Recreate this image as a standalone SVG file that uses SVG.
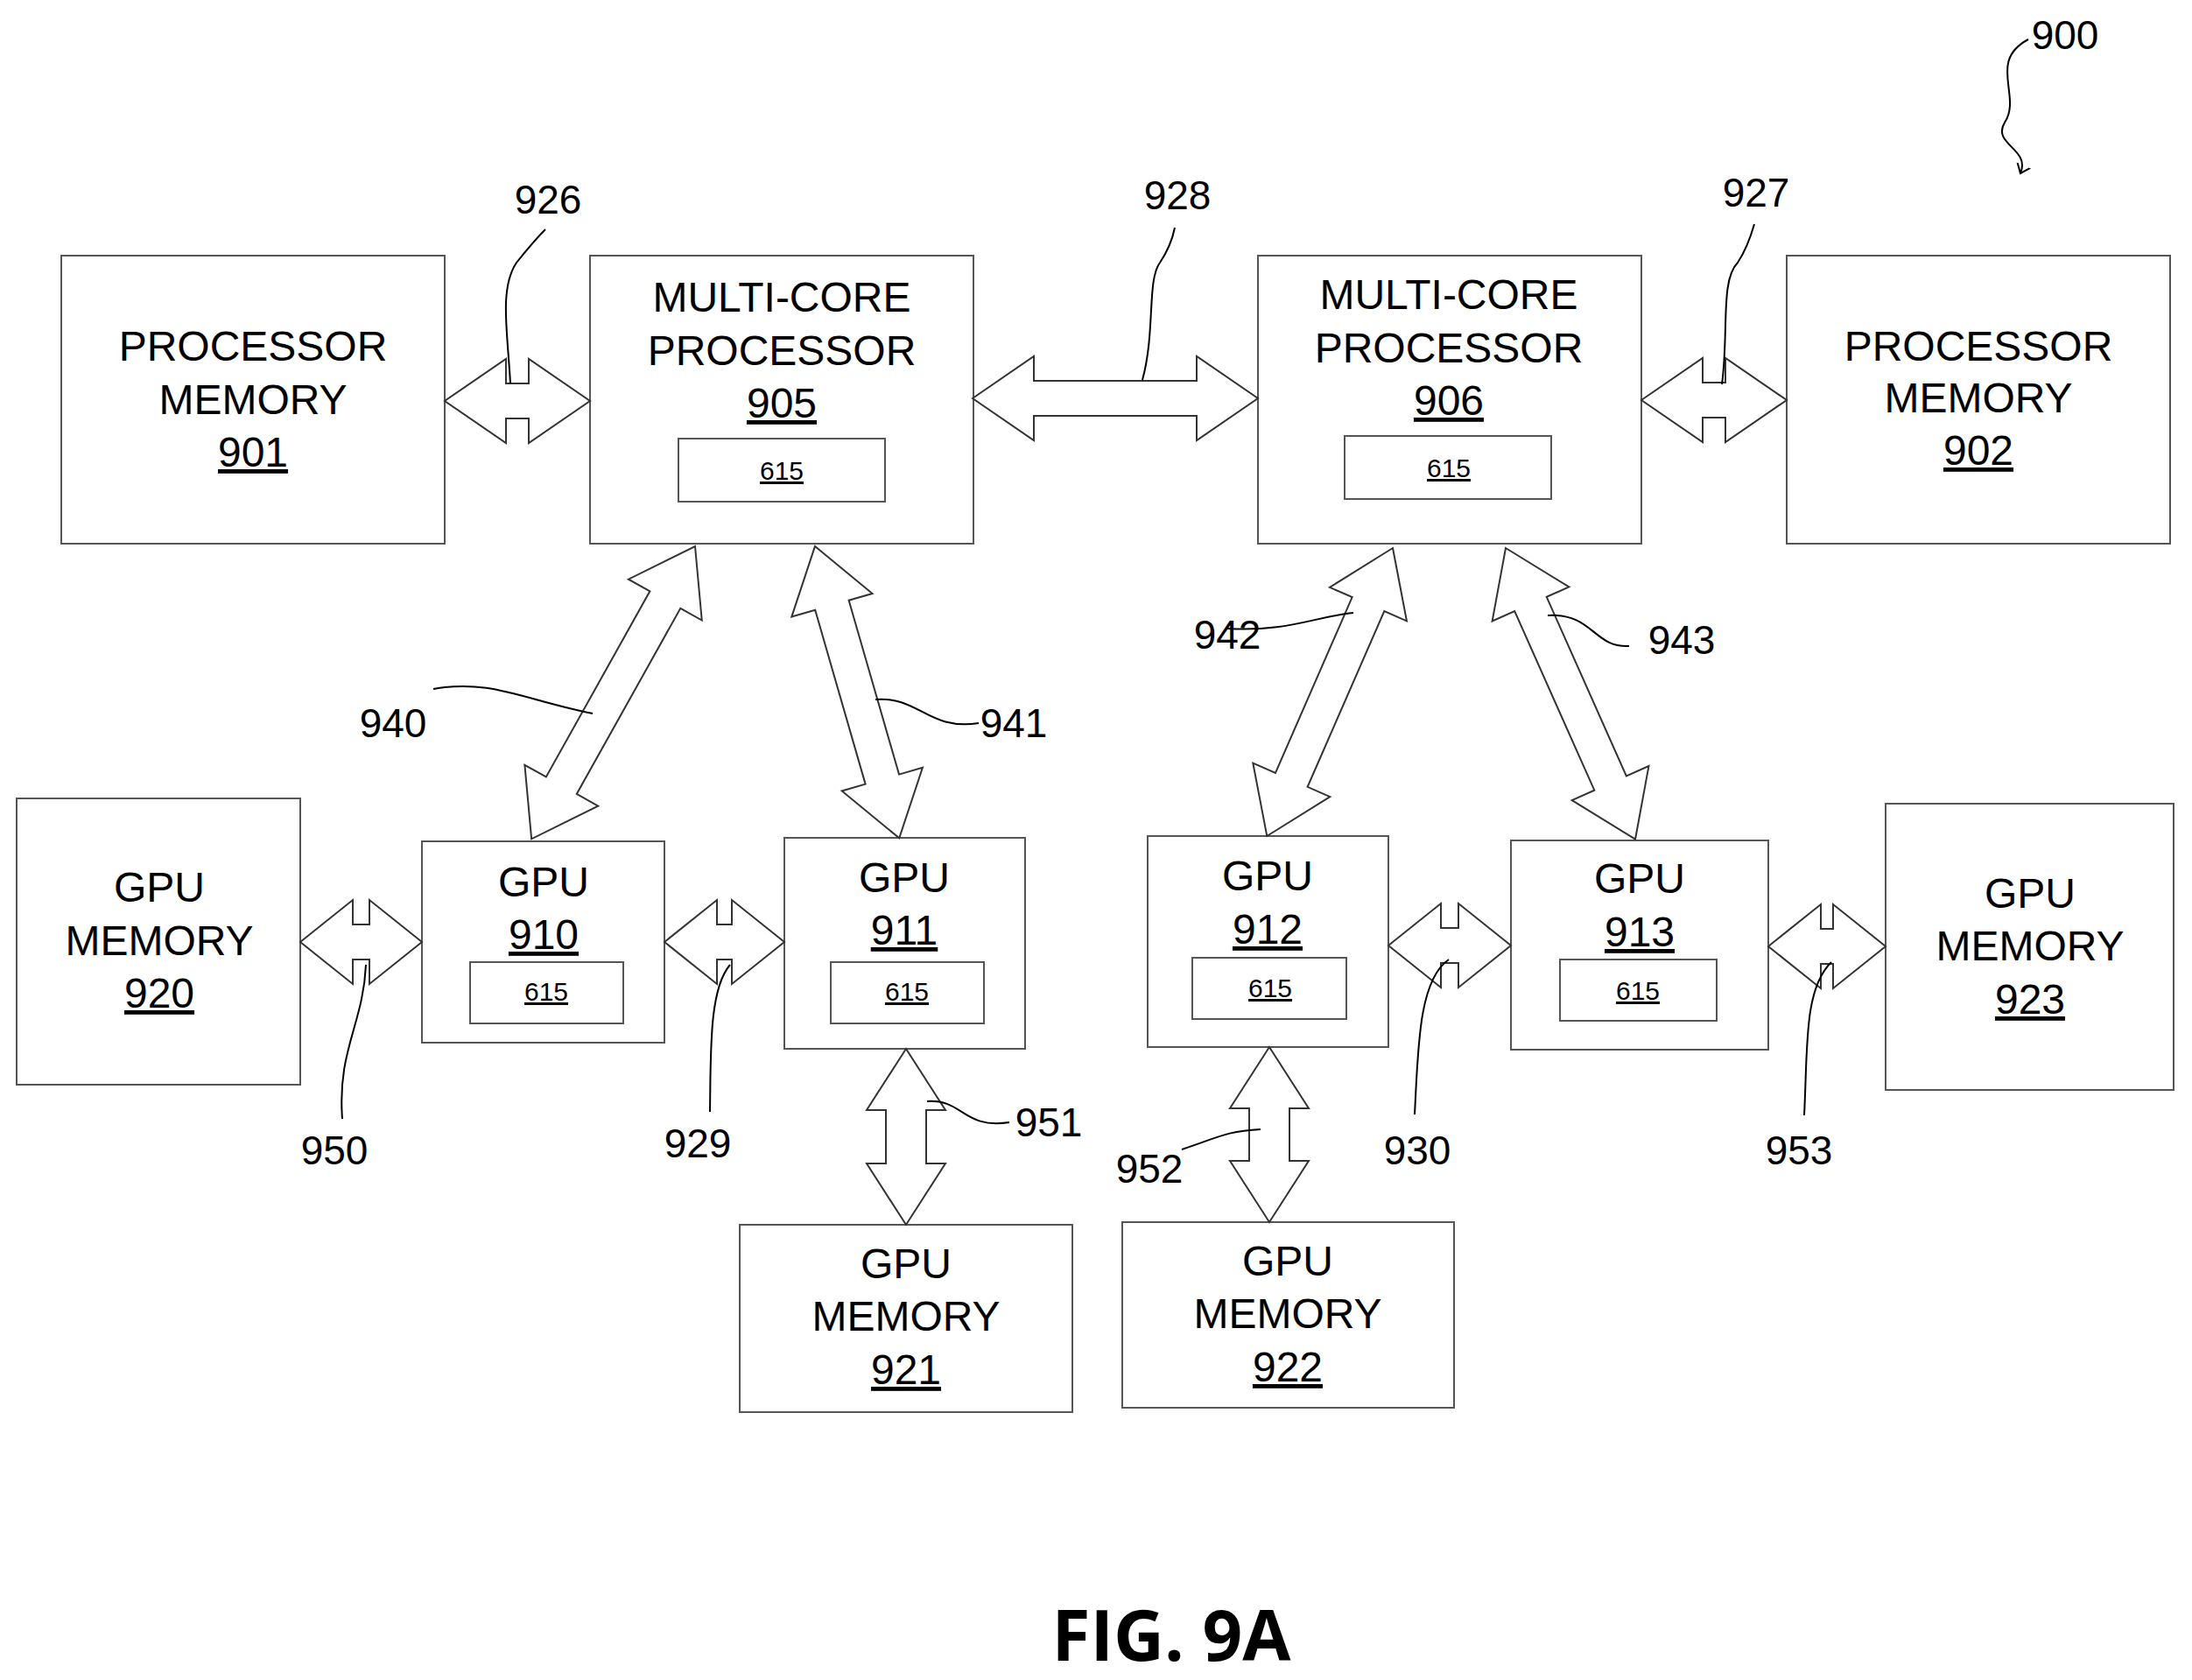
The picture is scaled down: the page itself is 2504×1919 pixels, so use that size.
<svg xmlns="http://www.w3.org/2000/svg" width="2504" height="1919" viewBox="0 0 2504 1919">
<style>
.b{fill:#fff;stroke:#555;stroke-width:2}
.t{font-family:"Liberation Sans",Arial,sans-serif;font-size:48px;text-anchor:middle;fill:#000}
.s{font-family:"Liberation Sans",Arial,sans-serif;font-size:30px;text-anchor:middle;fill:#000;text-decoration:underline}
.u{text-decoration:underline}
.l{font-family:"Liberation Sans",Arial,sans-serif;font-size:46px;text-anchor:middle;fill:#000}
.a{fill:#fff;stroke:#333;stroke-width:2}
.ld{fill:none;stroke:#000;stroke-width:2}
</style>
<defs>
<marker id="v" markerWidth="20" markerHeight="20" refX="10" refY="10" orient="auto" markerUnits="userSpaceOnUse"><path d="M0,2 L10,10 L0,18" fill="none" stroke="#000" stroke-width="2"/></marker>
</defs>
<rect width="2504" height="1919" fill="#fff"/>
<g id="n901"><rect class="b" x="70" y="292" width="438" height="329"/><text class="t" x="289" y="412">PROCESSOR</text><text class="t" x="289" y="473">MEMORY</text><text class="t u" x="289" y="533">901</text></g>
<g id="n905"><rect class="b" x="674" y="292" width="438" height="329"/><text class="t" x="893" y="356">MULTI-CORE</text><text class="t" x="893" y="417">PROCESSOR</text><text class="t u" x="893" y="477">905</text><rect class="b" x="775" y="501" width="236" height="72"/><text class="s" x="893" y="548">615</text></g>
<g id="n906"><rect class="b" x="1437" y="292" width="438" height="329"/><text class="t" x="1655" y="353">MULTI-CORE</text><text class="t" x="1655" y="414">PROCESSOR</text><text class="t u" x="1655" y="474">906</text><rect class="b" x="1536" y="498" width="236" height="72"/><text class="s" x="1655" y="545">615</text></g>
<g id="n902"><rect class="b" x="2041" y="292" width="438" height="329"/><text class="t" x="2260" y="412">PROCESSOR</text><text class="t" x="2260" y="471">MEMORY</text><text class="t u" x="2260" y="531">902</text></g>
<g id="n920"><rect class="b" x="19" y="912" width="324" height="327"/><text class="t" x="182" y="1030">GPU</text><text class="t" x="182" y="1091">MEMORY</text><text class="t u" x="182" y="1151">920</text></g>
<g id="n910"><rect class="b" x="482" y="961" width="277" height="230"/><text class="t" x="621" y="1024">GPU</text><text class="t u" x="621" y="1084">910</text><rect class="b" x="537" y="1099" width="175" height="70"/><text class="s" x="624" y="1143">615</text></g>
<g id="n911"><rect class="b" x="896" y="957" width="275" height="241"/><text class="t" x="1033" y="1019">GPU</text><text class="t u" x="1033" y="1079">911</text><rect class="b" x="949" y="1099" width="175" height="70"/><text class="s" x="1036" y="1143">615</text></g>
<g id="n912"><rect class="b" x="1311" y="955" width="275" height="241"/><text class="t" x="1448" y="1017">GPU</text><text class="t u" x="1448" y="1078">912</text><rect class="b" x="1362" y="1094" width="176" height="70"/><text class="s" x="1451" y="1139">615</text></g>
<g id="n913"><rect class="b" x="1726" y="960" width="294" height="239"/><text class="t" x="1873" y="1020">GPU</text><text class="t u" x="1873" y="1081">913</text><rect class="b" x="1782" y="1096" width="179" height="70"/><text class="s" x="1871" y="1142">615</text></g>
<g id="n923"><rect class="b" x="2154" y="918" width="329" height="327"/><text class="t" x="2319" y="1037">GPU</text><text class="t" x="2319" y="1097">MEMORY</text><text class="t u" x="2319" y="1158">923</text></g>
<g id="n921"><rect class="b" x="845" y="1399" width="380" height="214"/><text class="t" x="1035" y="1460">GPU</text><text class="t" x="1035" y="1520">MEMORY</text><text class="t u" x="1035" y="1581">921</text></g>
<g id="n922"><rect class="b" x="1282" y="1396" width="379" height="212"/><text class="t" x="1471" y="1457">GPU</text><text class="t" x="1471" y="1517">MEMORY</text><text class="t u" x="1471" y="1578">922</text></g>
<g id="connectors">
<polygon class="a" transform="translate(508,458)" points="0,0 70,-48 70,-20 96,-20 96,-48 166,0 96,48 96,20 70,20 70,48"/>
<polygon class="a" transform="translate(1111,455)" points="0,0 70,-48 70,-20 256,-20 256,-48 326,0 256,48 256,20 70,20 70,48"/>
<polygon class="a" transform="translate(1875,457)" points="0,0 70,-48 70,-20 96,-20 96,-48 166,0 96,48 96,20 70,20 70,48"/>
<polygon class="a" transform="translate(343,1076)" points="0,0 60,-48 60,-20 79,-20 79,-48 139,0 79,48 79,20 60,20 60,48"/>
<polygon class="a" transform="translate(759,1076)" points="0,0 60,-48 60,-20 77,-20 77,-48 137,0 77,48 77,20 60,20 60,48"/>
<polygon class="a" transform="translate(1586,1080)" points="0,0 60,-48 60,-20 80,-20 80,-48 140,0 80,48 80,20 60,20 60,48"/>
<polygon class="a" transform="translate(2020,1081)" points="0,0 60,-48 60,-20 74,-20 74,-48 134,0 74,48 74,20 60,20 60,48"/>
<polygon class="a" transform="translate(1035,1198) rotate(90)" points="0,0 70,-45 70,-23 131,-23 131,-45 201,0 131,45 131,23 70,23 70,45"/>
<polygon class="a" transform="translate(1450,1196) rotate(90)" points="0,0 70,-45 70,-23 130,-23 130,-45 200,0 130,45 130,23 70,23 70,45"/>
<polygon class="a" transform="translate(794,624) rotate(119.2)" points="0,0 70,-48 70,-20 313,-20 313,-48 383,0 313,48 313,20 70,20 70,48"/>
<polygon class="a" transform="translate(931,624) rotate(73.9)" points="0,0 70,-48 70,-20 277,-20 277,-48 347,0 277,48 277,20 70,20 70,48"/>
<polygon class="a" transform="translate(1591,626) rotate(113.6)" points="0,0 70,-48 70,-20 289,-20 289,-48 359,0 289,48 289,20 70,20 70,48"/>
<polygon class="a" transform="translate(1720,626) rotate(66)" points="0,0 70,-48 70,-20 294,-20 294,-48 364,0 294,48 294,20 70,20 70,48"/>
<path class="ld" d="M583,438 C580,380 570,330 590,300 C610,275 615,270 623,262"/>
<path class="ld" d="M1305,434 C1320,380 1310,320 1325,300 C1335,285 1340,270 1342,260"/>
<path class="ld" d="M1967,439 C1975,380 1965,320 1985,300 C1995,285 2000,270 2004,256"/>
<path class="ld" d="M2317,45 C2270,70 2310,110 2290,140 C2275,165 2320,170 2308,198" marker-end="url(#v)"/>
<path class="ld" d="M495,787 C560,775 600,800 677,815"/>
<path class="ld" d="M1000,799 C1050,795 1060,835 1118,826"/>
<path class="ld" d="M1402,718 C1470,722 1500,705 1546,700"/>
<path class="ld" d="M1768,703 C1820,700 1820,740 1861,738"/>
<path class="ld" d="M418,1102 C415,1170 385,1200 391,1278"/>
<path class="ld" d="M834,1102 C810,1130 812,1200 811,1270"/>
<path class="ld" d="M1059,1258 C1100,1255 1100,1290 1153,1282"/>
<path class="ld" d="M1350,1313 C1390,1300 1400,1292 1440,1290"/>
<path class="ld" d="M1655,1096 C1620,1120 1620,1200 1616,1273"/>
<path class="ld" d="M2092,1099 C2060,1130 2065,1200 2061,1274"/>
</g>
<g id="labels">
<text class="l" x="626" y="244">926</text>
<text class="l" x="1345" y="239">928</text>
<text class="l" x="2006" y="236">927</text>
<text class="l" x="2359" y="56">900</text>
<text class="l" x="449" y="842">940</text>
<text class="l" x="1158" y="842">941</text>
<text class="l" x="1402" y="741">942</text>
<text class="l" x="1921" y="747">943</text>
<text class="l" x="382" y="1330">950</text>
<text class="l" x="797" y="1322">929</text>
<text class="l" x="1198" y="1298">951</text>
<text class="l" x="1313" y="1351">952</text>
<text class="l" x="1619" y="1330">930</text>
<text class="l" x="2055" y="1330">953</text>
<text x="1338" y="1897" font-family="'Open Sans',sans-serif" font-weight="bold" font-size="80" text-anchor="middle">FIG. 9A</text>
</g>
</svg>
